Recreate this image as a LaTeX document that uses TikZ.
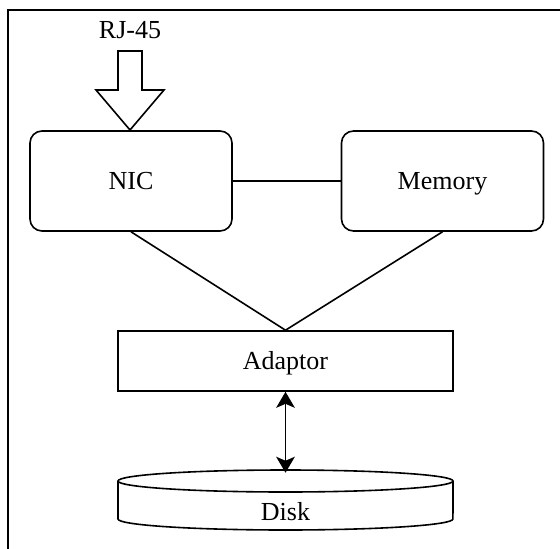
\documentclass[tikz,border=0pt]{standalone}
\usepackage{fontspec}
\setmainfont{Liberation Serif}
\usetikzlibrary{arrows.meta}
\begin{document}
\begin{tikzpicture}[x=0.75pt,y=-0.75pt,line width=1.2pt,
  every node/.style={font=\fontsize{19.5}{23}\selectfont},
  txt/.style={text height=0.66em+6pt,text depth=0pt},
  rbox/.style={draw,rounded corners=9pt,minimum width=151.5pt,minimum height=75pt,inner sep=0pt,txt},
  sbox/.style={draw,minimum width=251.25pt,minimum height=45pt,inner sep=0pt,txt},
  dbl/.style={{Stealth[length=12pt,width=14pt,inset=3pt]}-{Stealth[length=12pt,width=14pt,inset=3pt]}}]
\useasboundingbox (0,0) rectangle (560,549);
% frame
\draw[line width=1.5pt] (8,549) -- (8,10) -- (560,10);
% nodes
\node[rbox] (nic) at (131,181) {NIC};
\node[rbox] (mem) at (442.5,181) {Memory};
\node[sbox] (adaptor) at (285.5,361) {Adaptor};
\node[inner sep=0pt] (rj) at (130,30) {RJ-45};
% block arrow
\draw[line join=miter] (118,51) -- (142,51) -- (142,90) -- (164,90) -- (130,130) -- (96,90) -- (118,90) -- cycle;
% disk cylinder
\draw (285.5,481) ellipse [x radius=125.6pt, y radius=8.25pt];
\draw (118,481) -- (118,519) arc[start angle=180,end angle=360,x radius=125.6pt,y radius=8.25pt] -- (453,481);
\node[txt,inner sep=0pt] (disk) at (285.5,512) {Disk};
\coordinate (disktop) at (285.5,472.75);
% connectors
\draw (nic) -- (mem);
\draw (nic.south) -- (adaptor.north);
\draw (mem.south) -- (adaptor.north);
\draw[dbl] (adaptor.south) -- (disktop);
\end{tikzpicture}
\end{document}
